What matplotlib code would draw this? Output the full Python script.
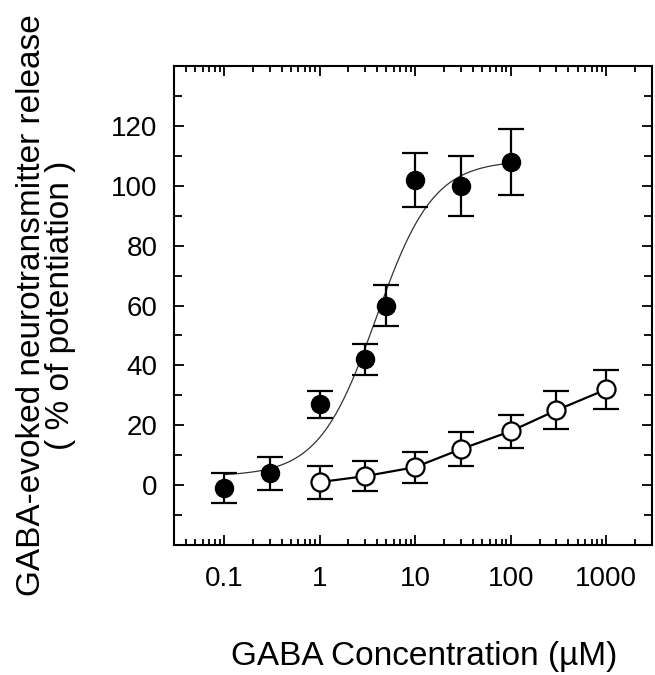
import numpy as np
import matplotlib.pyplot as plt
from matplotlib.ticker import FixedLocator, FixedFormatter, LogLocator, MultipleLocator, NullFormatter

plt.rcParams['font.family'] = ['Liberation Sans', 'DejaVu Sans']

# GABA alone (filled circles)
gaba_x = [0.1, 0.3, 1, 3, 5, 10, 30, 100]
gaba_y = [-1, 4, 27, 42, 60, 102, 100, 108]
gaba_err = [5, 5.5, 4.5, 5.3, 7, 9, 10, 11]

# second condition (open circles)
open_x = [1, 3, 10, 30, 100, 300, 1000]
open_y = [1, 3, 6, 12, 18, 25, 32]
open_err = [5.5, 5, 5.2, 5.6, 5.5, 6.3, 6.6]

# Hill fit through the filled points: bottom, top, EC50 (uM), slope
hill_bottom, hill_top, hill_ec50, hill_n = 3.0, 108.5, 3.9, 1.45

x_ticks = [0.1, 1, 10, 100, 1000]
x_ticklabels = ["0.1", "1", "10", "100", "1000"]
y_ticks = [0, 20, 40, 60, 80, 100, 120]

fig = plt.figure(figsize=(6.55, 6.75), dpi=100)
ax = fig.add_axes([0.2656, 0.1926, 0.7298, 0.7096])

# fitted curve
xf = np.logspace(-1, 2, 300)
yf = hill_bottom + (hill_top - hill_bottom) / (1 + (hill_ec50 / xf) ** hill_n)
ax.plot(xf, yf, color='#333333', lw=0.9, zorder=1)

ax.errorbar(gaba_x, gaba_y, yerr=gaba_err, fmt='o', ms=13, mfc='black', mec='black',
            ecolor='black', elinewidth=1.6, capsize=9.5, capthick=1.6, zorder=3)
ax.errorbar(open_x, open_y, yerr=open_err, fmt='o-', ms=13, mfc='white', mec='black',
            mew=1.6, color='black', lw=1.6, ecolor='black', elinewidth=1.6,
            capsize=9.5, capthick=1.6, zorder=3)

ax.set_xscale('log')
ax.set_xlim(0.03, 3000)
ax.set_ylim(-20, 140)

ax.xaxis.set_major_locator(FixedLocator(x_ticks))
ax.xaxis.set_major_formatter(FixedFormatter(x_ticklabels))
ax.xaxis.set_minor_locator(LogLocator(base=10, subs=np.arange(2, 10), numticks=20))
ax.xaxis.set_minor_formatter(NullFormatter())
ax.set_yticks(y_ticks)
ax.yaxis.set_minor_locator(MultipleLocator(10))

for side in ax.spines.values():
    side.set_linewidth(1.5)
ax.tick_params(which='both', direction='in', top=True, right=True, width=1.3,
               labelsize=20)
ax.tick_params(axis='x', pad=15)
ax.tick_params(axis='y', pad=12)
ax.tick_params(which='major', length=7)
ax.tick_params(which='minor', length=4)
ax.tick_params(axis='y', which='minor', length=6)

fig.text(46 / 655, 1 - 305 / 675,
         "GABA-evoked neurotransmitter release\n( % of potentiation )",
         rotation=90, ha='center', va='center', fontsize=24, linespacing=0.95)
fig.text(424 / 655, 1 - 657 / 675, "GABA Concentration (\u00b5M)",
         ha='center', va='center', fontsize=24)

fig.savefig("out.png", dpi=100)
